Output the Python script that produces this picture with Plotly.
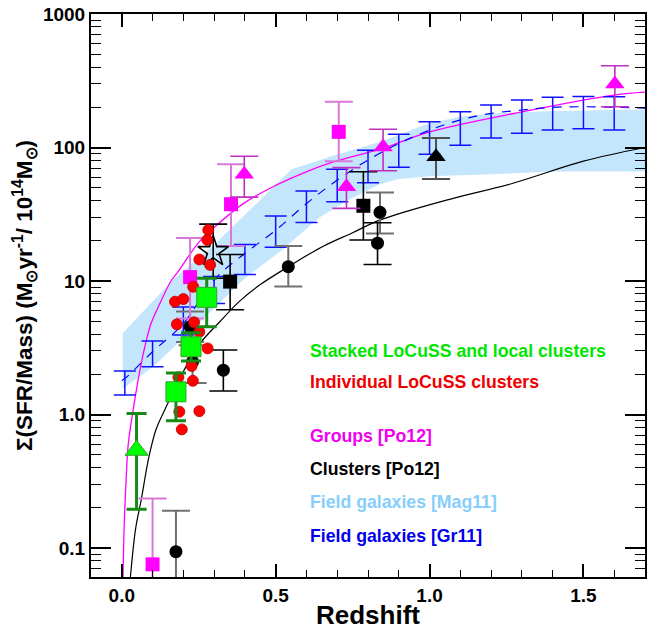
import numpy as np
import plotly.graph_objects as go

# ---------------- data ----------------
# Field galaxies [Mag11] band (lower / upper envelopes)
mag_up_x = [0.003, 0.166, 0.30, 0.552, 0.676, 0.838, 1.0, 1.1, 1.2, 1.38, 1.7]
mag_up_y = [4.06, 10.2, 18.7, 68.7, 85.3, 110, 152, 170, 180, 187, 193]
mag_lo_x = [0.003, 0.1, 0.2, 0.3, 0.4, 0.52, 0.643, 0.75, 0.838, 0.9, 1.0, 1.2, 1.4, 1.7]
mag_lo_y = [1.57, 2.26, 3.73, 6.25, 10.5, 17.0, 30.0, 42.0, 53.0, 58.0, 61.0, 63.0, 66.0, 66.0]

# Field galaxies [Gr11] error bars and dashed line
gr_x = [0.01, 0.1, 0.2, 0.3, 0.4, 0.5, 0.6, 0.7, 0.8, 0.9, 1.0, 1.1, 1.2, 1.3, 1.4, 1.5, 1.6]
gr_hi = [2.12, 3.56, 6.4, 10.8, 18.8, 30.7, 47.2, 68.7, 95.3, 125.6, 156, 185, 208, 227, 238, 241, 240]
gr_lo = [1.40, 2.28, 3.95, 6.8, 11.2, 17.9, 27.4, 39.3, 54.5, 71, 89, 104, 118, 128, 135, 138, 135]
gr_line_x = [0.0, 0.01, 0.1, 0.2, 0.3, 0.4, 0.5, 0.6, 0.7, 0.8, 0.9, 1.0, 1.1, 1.2, 1.3, 1.4, 1.5, 1.6, 1.7]
gr_line_y = [1.8, 1.86, 2.95, 4.8, 10.2, 16.1, 24, 38, 57, 80.6, 107, 135, 161, 180, 191, 200, 202, 200, 197]

# Groups [Po12] model curve (magenta) and Clusters [Po12] model curve (black)
grp_curve_x = [0.004, 0.008, 0.014, 0.021, 0.036, 0.063, 0.095, 0.12, 0.16, 0.18, 0.25, 0.29,
               0.395, 0.50, 0.58, 0.68, 0.85, 1.0, 1.3, 1.6, 1.7]
grp_curve_y = [0.0607, 0.15, 0.32, 0.6, 1.05, 2.4, 4.8, 6.5, 10.0, 11.5, 19.5, 24, 38, 52, 63, 77,
               99, 131, 185, 247, 260]
cl_curve_x = [0.028, 0.045, 0.063, 0.088, 0.111, 0.141, 0.2, 0.254, 0.32, 0.384, 0.45, 0.541,
              0.65, 0.75, 0.838, 1.055, 1.271, 1.5, 1.7]
cl_curve_y = [0.0607, 0.14, 0.229, 0.48, 0.77, 1.1, 2.1, 3.4, 5.0, 7.1, 9.4, 12.8, 18, 23, 28.6,
              40.4, 54, 79, 100]

# Groups [Po12] points
grp_sq_x = [0.100, 0.222, 0.355, 0.705]
grp_sq_y = [0.0755, 10.7, 37.6, 131]
grp_sq_hi = [0.235, 21.0, 75.0, 220]
grp_sq_lo = [0.03, 5.25, 18.3, 79]
grp_tri_x = [0.398, 0.730, 0.849, 1.602]
grp_tri_y = [63, 50.8, 101, 299]
grp_tri_hi = [86, 70.7, 137, 410]
grp_tri_lo = [42.5, 35, 67, 202]

# Clusters [Po12] points
cl_sq_x = [0.352, 0.785]
cl_sq_y = [9.9, 36.6]
cl_sq_hi = [15.8, 65.9]
cl_sq_lo = [6.1, 20.3]
cl_circ_gray_x = [0.176, 0.222, 0.230, 0.541, 0.839]
cl_circ_gray_y = [0.094, 4.55, 2.49, 12.8, 32.7]
cl_circ_gray_hi = [0.19, 5.9, 3.3, 18.3, 46.1]
cl_circ_gray_lo = [0.03, 3.5, 1.72, 9.1, 22.7]
cl_circ_blk_x = [0.330, 0.831]
cl_circ_blk_y = [2.15, 19.2]
cl_circ_blk_hi = [3.04, 27.3]
cl_circ_blk_lo = [1.5, 13.3]
cl_tri_x = [1.021]
cl_tri_y = [85.3]
cl_tri_hi = [118]
cl_tri_lo = [58]
star_x = [0.297]
star_y = [16.6]
star_hi = [26.7]
star_lo = [10.5]

# Individual LoCuSS clusters
red_x = [0.281, 0.278, 0.252, 0.287, 0.232, 0.173, 0.200, 0.179, 0.235, 0.252, 0.279,
         0.227, 0.184, 0.231, 0.187, 0.252, 0.195]
red_y = [24.1, 20.3, 14.5, 13.2, 9.06, 7.0, 7.33, 4.74, 4.91, 4.17, 3.13,
         2.31, 1.90, 1.79, 1.05, 1.06, 0.774]

# Stacked LoCuSS and local clusters
stk_sq_x = [0.176, 0.225, 0.276]
stk_sq_y = [1.48, 3.22, 7.55]
stk_sq_hi = [2.05, 4.1, 10.5]
stk_sq_lo = [0.9, 2.52, 4.55]
stk_tri_x = [0.048]
stk_tri_y = [0.54]
stk_tri_hi = [1.02]
stk_tri_lo = [0.195]

x_tickvals = [0.0, 0.5, 1.0, 1.5]
x_ticktext = ["0.0", "0.5", "1.0", "1.5"]
y_tickvals = [0.1, 1, 10, 100, 1000]
y_ticktext = ["0.1", "1.0", "10", "100", "1000"]

legend_labels = ["Stacked LoCuSS and local clusters", "Individual LoCuSS clusters",
                 "Groups [Po12]", "Clusters [Po12]", "Field galaxies [Mag11]",
                 "Field galaxies [Gr11]"]
legend_colors = ["#00e600", "#f00000", "#f000f0", "#000000", "#87cefa", "#0000ee"]
legend_ypix = [351, 382, 436, 469, 502, 536]

# ---------------- figure ----------------
FONT = "Liberation Sans, Arial, Helvetica, sans-serif"
fig = go.Figure()


def err(y, hi, lo):
    y = np.asarray(y, float)
    return (np.asarray(hi, float) - y).tolist(), (y - np.asarray(lo, float)).tolist()


# Mag11 band
band_x = list(mag_up_x) + list(mag_lo_x[::-1])
band_y = list(mag_up_y) + list(mag_lo_y[::-1])
fig.add_trace(go.Scatter(x=band_x, y=band_y, mode="lines", fill="toself",
                         fillcolor="rgba(135,206,250,0.5)", line=dict(width=0),
                         hoverinfo="skip", showlegend=False))

# model curves
fig.add_trace(go.Scatter(x=grp_curve_x, y=grp_curve_y, mode="lines", line_shape="spline",
                         line=dict(color="#ff00ff", width=1.3), showlegend=False))
fig.add_trace(go.Scatter(x=cl_curve_x, y=cl_curve_y, mode="lines", line_shape="spline",
                         line=dict(color="black", width=1.2), showlegend=False))

# Gr11 dashed line and error bars
fig.add_trace(go.Scatter(x=gr_line_x, y=gr_line_y, mode="lines", line_shape="spline",
                         line=dict(color="#0000ff", width=1.2, dash="9px,8px"), showlegend=False))
gp = (np.asarray(gr_hi) - np.asarray(gr_lo)).tolist()
fig.add_trace(go.Scatter(x=gr_x, y=gr_lo, mode="markers", marker=dict(size=1, opacity=0),
                         error_y=dict(type="data", array=gp, arrayminus=[0] * len(gr_x),
                                      color="#1010ff", thickness=1.5, width=11),
                         showlegend=False))

# Clusters [Po12]
a, b = err(cl_circ_gray_y, cl_circ_gray_hi, cl_circ_gray_lo)
fig.add_trace(go.Scatter(x=cl_circ_gray_x, y=cl_circ_gray_y, mode="markers",
                         marker=dict(symbol="circle", size=13, color="black"),
                         error_y=dict(type="data", array=a, arrayminus=b, color="#707070",
                                      thickness=2, width=14), showlegend=False))
a, b = err(cl_circ_blk_y, cl_circ_blk_hi, cl_circ_blk_lo)
fig.add_trace(go.Scatter(x=cl_circ_blk_x, y=cl_circ_blk_y, mode="markers",
                         marker=dict(symbol="circle", size=13, color="black"),
                         error_y=dict(type="data", array=a, arrayminus=b, color="black",
                                      thickness=1.6, width=14), showlegend=False))
a, b = err(cl_sq_y, cl_sq_hi, cl_sq_lo)
fig.add_trace(go.Scatter(x=cl_sq_x, y=cl_sq_y, mode="markers",
                         marker=dict(symbol="square", size=14, color="black"),
                         error_y=dict(type="data", array=a, arrayminus=b, color="black",
                                      thickness=1.6, width=14), showlegend=False))
a, b = err(cl_tri_y, cl_tri_hi, cl_tri_lo)
fig.add_trace(go.Scatter(x=cl_tri_x, y=cl_tri_y, mode="markers",
                         marker=dict(symbol="triangle-up", size=17, color="black"),
                         error_y=dict(type="data", array=a, arrayminus=b, color="#505050",
                                      thickness=2, width=14), showlegend=False))

# Groups [Po12]
a, b = err(grp_sq_y, grp_sq_hi, grp_sq_lo)
fig.add_trace(go.Scatter(x=grp_sq_x, y=grp_sq_y, mode="markers",
                         marker=dict(symbol="square", size=14, color="#ff00ff"),
                         error_y=dict(type="data", array=a, arrayminus=b, color="#d878d8",
                                      thickness=2, width=14), showlegend=False))
a, b = err(grp_tri_y, grp_tri_hi, grp_tri_lo)
fig.add_trace(go.Scatter(x=grp_tri_x, y=grp_tri_y, mode="markers",
                         marker=dict(symbol="triangle-up", size=17, color="#ff00ff"),
                         error_y=dict(type="data", array=a, arrayminus=b, color="#c030c0",
                                      thickness=1.6, width=14), showlegend=False))

# star
a, b = err(star_y, star_hi, star_lo)
fig.add_trace(go.Scatter(x=star_x, y=star_y, mode="markers",
                         marker=dict(symbol="star-open", size=23, color="black",
                                     line=dict(width=1.6, color="black")),
                         error_y=dict(type="data", array=a, arrayminus=b, color="black",
                                      thickness=1.6, width=14), showlegend=False))

# Individual LoCuSS clusters
fig.add_trace(go.Scatter(x=red_x, y=red_y, mode="markers",
                         marker=dict(symbol="circle", size=11, color="#ff0000",
                                     line=dict(width=0.8, color="#c00000")),
                         showlegend=False))

# Stacked
a, b = err(stk_sq_y, stk_sq_hi, stk_sq_lo)
fig.add_trace(go.Scatter(x=stk_sq_x, y=stk_sq_y, mode="markers",
                         marker=dict(symbol="square", size=20, color="#00ff00",
                                     line=dict(width=1, color="#30a030")),
                         error_y=dict(type="data", array=a, arrayminus=b, color="#158a15",
                                      thickness=3, width=10), showlegend=False))
a, b = err(stk_tri_y, stk_tri_hi, stk_tri_lo)
fig.add_trace(go.Scatter(x=stk_tri_x, y=stk_tri_y, mode="markers",
                         marker=dict(symbol="triangle-up", size=20, color="#00ff00",
                                     line=dict(width=1, color="#30a030")),
                         error_y=dict(type="data", array=a, arrayminus=b, color="#158a15",
                                      thickness=3, width=10), showlegend=False))

# the page body margin is removed (post_script below), so figure == window
W, H = 662, 630
L, R, T, B = 91, 17, 14, 53
for lab, col, yp in zip(legend_labels, legend_colors, legend_ypix):
    fig.add_annotation(text=lab, xref="paper", yref="paper",
                       x=(308 - L) / (W - L - R), y=1 - (yp - T) / (H - T - B),
                       xanchor="left", yanchor="middle", showarrow=False,
                       font=dict(family=FONT, size=17.7, color=col, weight="bold"))

minor_y = [k * 10.0 ** n for n in range(-2, 3) for k in range(2, 10)]

fig.update_layout(
    width=W, height=H,
    margin=dict(l=L, r=R, t=T, b=B, autoexpand=False),
    paper_bgcolor="white", plot_bgcolor="white",
    font=dict(family=FONT, color="black", weight="bold"),
    xaxis=dict(range=[-0.1, 1.7], tickvals=x_tickvals, ticktext=x_ticktext,
               automargin=False, ticklabeloverflow="allow",
               ticks="inside", ticklen=13, tickwidth=1.5, tickcolor="black",
               minor=dict(dtick=0.1, tick0=0, ticks="inside", ticklen=7, tickwidth=1.3,
                          tickcolor="black"),
               showline=True, linewidth=2, linecolor="black", mirror="allticks",
               showgrid=False, zeroline=False,
               tickfont=dict(family=FONT, size=19, weight="bold"),
               title=dict(text="Redshift", font=dict(family=FONT, size=26, weight="bold"),
                          standoff=2)),
    yaxis=dict(type="log", range=[np.log10(0.0607), 3], tickvals=y_tickvals,
               ticktext=y_ticktext, ticks="inside", ticklen=20, tickwidth=1.5,
               tickcolor="black", automargin=False, ticklabeloverflow="allow",
               minor=dict(tickvals=minor_y, ticks="inside", ticklen=10, tickwidth=1.3,
                          tickcolor="black"),
               showline=True, linewidth=2, linecolor="black", mirror="allticks",
               showgrid=False, zeroline=False,
               tickfont=dict(family=FONT, size=19, weight="bold"),
               title=dict(text="Σ(SFR/Mass) (M<sub>⊙</sub>yr<sup>-1</sup>/ 10<sup>14</sup>M<sub>⊙</sub>)",
                          font=dict(family=FONT, size=22.5, weight="bold"), standoff=4)),
)

fig.write_html("out.html", config={"displayModeBar": False},
               post_script="document.body.style.margin='0px';document.body.style.padding='0px';")
